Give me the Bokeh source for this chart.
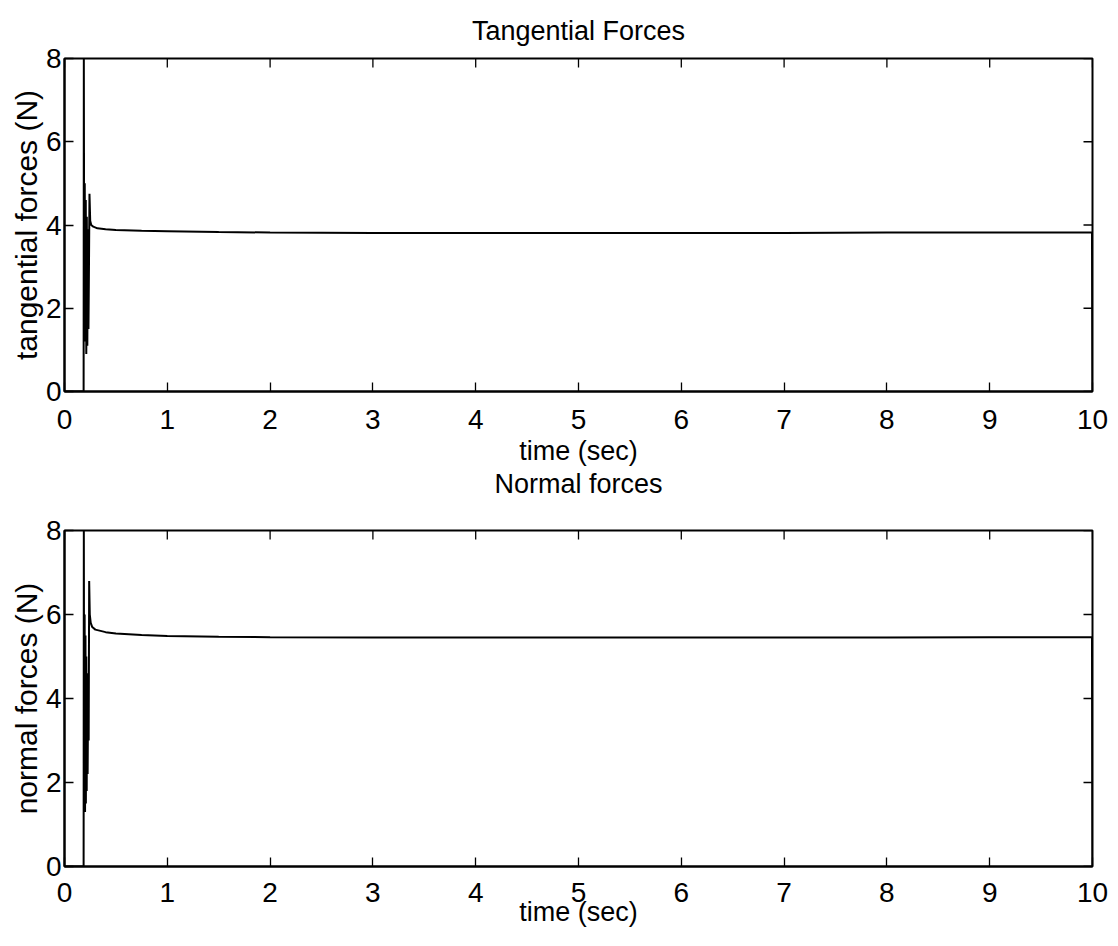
import math
from bokeh.plotting import figure
from bokeh.layouts import column
from bokeh.models import Range1d, Title
from bokeh.embed import file_html
from bokeh.resources import INLINE

# time samples (s) and force values (N)
t_tan = [0.0, 0.186, 0.188, 0.192, 0.197, 0.202, 0.207, 0.212, 0.217, 0.222,
         0.228, 0.233, 0.238, 0.243, 0.250, 0.260, 0.280, 0.320, 0.40, 0.50,
         0.75, 1.0, 1.5, 2.0, 3.0, 4.0, 5.0, 6.0, 7.0, 8.0, 9.0, 9.995, 10.0]
f_tan = [0.0, 0.0, 8.0, 2.0, 5.0, 1.2, 4.6, 0.9, 4.2, 1.1,
         3.9, 1.5, 3.0, 4.75, 4.1, 4.0, 3.96, 3.92, 3.9, 3.88,
         3.86, 3.85, 3.83, 3.82, 3.81, 3.81, 3.81, 3.81, 3.81, 3.82, 3.82, 3.82, 0.0]

t_nor = [0.0, 0.186, 0.188, 0.192, 0.196, 0.200, 0.204, 0.208, 0.212, 0.216,
         0.220, 0.225, 0.230, 0.235, 0.240, 0.246, 0.255, 0.270, 0.30, 0.40,
         0.50, 0.75, 1.0, 1.5, 2.0, 3.0, 4.0, 5.0, 6.0, 7.0, 8.0, 9.0, 9.995, 10.0]
f_nor = [0.0, 0.0, 8.0, 1.4, 6.0, 1.3, 5.5, 1.5, 5.0, 1.8,
         4.6, 2.2, 4.3, 3.0, 6.8, 6.0, 5.8, 5.7, 5.64, 5.58,
         5.55, 5.51, 5.49, 5.47, 5.46, 5.45, 5.45, 5.45, 5.45, 5.45, 5.45, 5.46, 5.46, 0.0]

x_ticks = list(range(0, 11))
y_ticks = [0, 2, 4, 6, 8]
X_MAX, Y_MAX = 10, 8

FONT = "Liberation Sans"
TICK_LEN = 9


def panel(t, f, ylabel, height, top, bottom, tick_standoff, xlabel_standoff):
    p = figure(width=1118, height=height, output_backend="svg",
               toolbar_location=None,
               x_range=Range1d(0, X_MAX), y_range=Range1d(0, Y_MAX),
               min_border_left=64, min_border_right=26,
               min_border_top=top, min_border_bottom=bottom)
    p.grid.visible = False
    p.outline_line_color = "black"
    p.outline_line_width = 2
    p.xaxis.ticker = x_ticks
    p.yaxis.ticker = y_ticks
    p.xaxis.axis_label = "time (sec)"
    p.yaxis.axis_label = ylabel
    for ax in p.xaxis + p.yaxis:
        ax.major_tick_in = TICK_LEN
        ax.major_tick_out = 0
        ax.minor_tick_line_color = None
        ax.axis_line_color = "black"
        ax.axis_line_width = 2
        ax.major_tick_line_color = "black"
        ax.major_tick_line_width = 1.3
        ax.major_label_text_font = FONT
        ax.major_label_text_font_size = "28px"
        ax.major_label_text_color = "black"
        ax.axis_label_text_font = FONT
        ax.axis_label_text_font_style = "normal"
        ax.axis_label_text_color = "black"
    p.xaxis.axis_label_text_font_size = "27px"
    p.yaxis.axis_label_text_font_size = "30px"
    p.xaxis.major_label_standoff = tick_standoff
    p.xaxis.axis_label_standoff = xlabel_standoff
    p.yaxis.major_label_standoff = 3
    p.yaxis.axis_label_standoff = 0
    # inward tick marks on the top and right edges of the box
    p.ray(x=x_ticks, y=[Y_MAX] * len(x_ticks), length=TICK_LEN,
          length_units="screen", angle=-math.pi / 2,
          line_color="black", line_width=1.3)
    p.ray(x=[X_MAX] * len(y_ticks), y=y_ticks, length=TICK_LEN,
          length_units="screen", angle=math.pi,
          line_color="black", line_width=1.3)
    p.line(t, f, line_color="black", line_width=2)
    return p


def title(text, standoff):
    return Title(text=text, align="center", vertical_align="top",
                 text_font=FONT, text_font_size="27px",
                 text_font_style="normal", text_color="black",
                 standoff=standoff)


p1 = panel(t_tan, f_tan, "tangential forces (N)", 500, 58, 105, 18, 4)
p1.add_layout(title("Tangential Forces", 22), "above")
p1.add_layout(title("Normal forces", 0), "below")

p2 = panel(t_nor, f_nor, "normal forces (N)", 446, 30, 80, 16, -8)

layout = column(p1, p2, spacing=0)
open("out.html", "w").write(file_html(layout, INLINE))
